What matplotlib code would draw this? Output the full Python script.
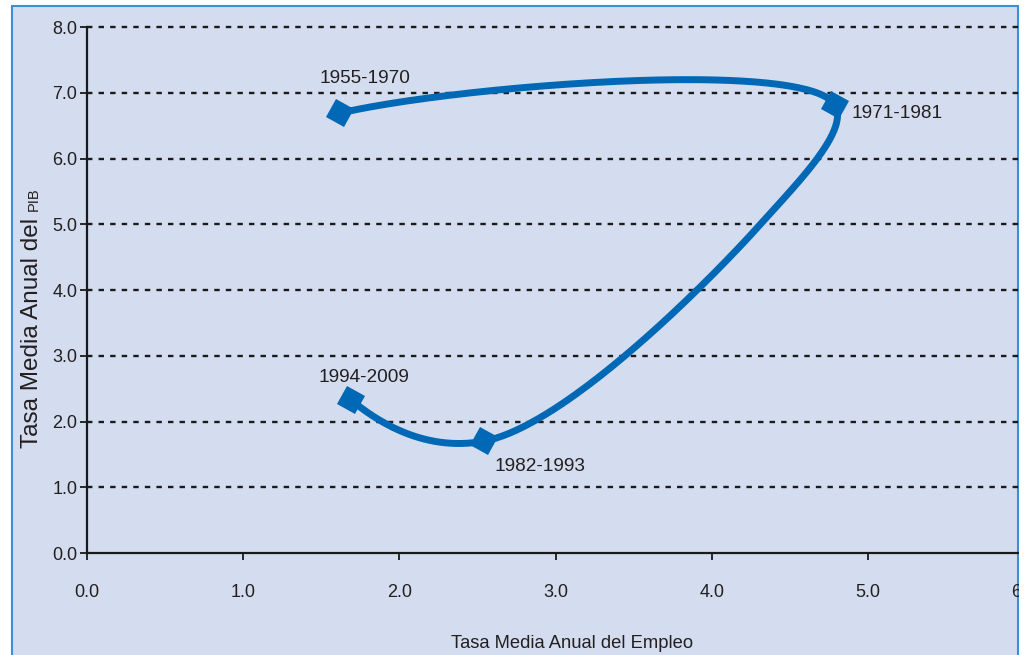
import numpy as np
import matplotlib.pyplot as plt
from matplotlib.markers import MarkerStyle
from matplotlib.patches import Rectangle
from matplotlib.transforms import Affine2D

# tasas medias anuales por periodo (empleo, PIB)
empleo = [1.62, 4.79, 4.32, 2.54, 1.69]
pib = [6.69, 6.81, 5.02, 1.70, 2.33]
periodos = ['1955-1970', '1971-1981', None, '1982-1993', '1994-2009']

xticks = [0, 1, 2, 3, 4, 5, 6]
yticks = [0, 1, 2, 3, 4, 5, 6, 7, 8]

plt.rcParams['font.family'] = ['Liberation Sans', 'DejaVu Sans']

FONDO = '#d4ddef'
AZUL = '#0068b5'
TEXTO = '#231f20'


def extremo(a, b, c, mezcla):
    # punto fantasma antes de a: mezcla entre prolongar b->a y reflejar c
    lineal = 2 * a - b
    u = (b - a) / np.linalg.norm(b - a)
    m = (a + b) / 2
    refl = c - 2 * np.dot(c - m, u) * u
    return (1 - mezcla) * lineal + mezcla * refl


def catmull_rom(P, alpha=0.5, mezcla=0.0, n=80):
    # Catmull-Rom centripeta (Barry-Goldman) tramo a tramo
    P = np.vstack([extremo(P[0], P[1], P[2], mezcla), P,
                   extremo(P[-1], P[-2], P[-3], mezcla)])
    out = []
    for i in range(1, len(P) - 2):
        p0, p1, p2, p3 = P[i - 1], P[i], P[i + 1], P[i + 2]
        t0 = 0
        t1 = t0 + np.linalg.norm(p1 - p0) ** alpha
        t2 = t1 + np.linalg.norm(p2 - p1) ** alpha
        t3 = t2 + np.linalg.norm(p3 - p2) ** alpha
        t = np.linspace(t1, t2, n)[:, None]
        a1 = (t1 - t) / (t1 - t0) * p0 + (t - t0) / (t1 - t0) * p1
        a2 = (t2 - t) / (t2 - t1) * p1 + (t - t1) / (t2 - t1) * p2
        a3 = (t3 - t) / (t3 - t2) * p2 + (t - t2) / (t3 - t2) * p3
        b1 = (t2 - t) / (t2 - t0) * a1 + (t - t0) / (t2 - t0) * a2
        b2 = (t3 - t) / (t3 - t1) * a2 + (t - t1) / (t3 - t1) * a3
        out.append((t2 - t) / (t2 - t1) * b1 + (t - t1) / (t2 - t1) * b2)
    return np.vstack(out)


fig = plt.figure(figsize=(10.3, 6.55), dpi=100, facecolor='white')
fig.patches.append(Rectangle((12 / 1030, -0.05), 1006 / 1030, 649 / 655 + 0.05,
                             transform=fig.transFigure, facecolor=FONDO,
                             edgecolor='#3d8fd1', linewidth=1.5, zorder=-1))

ax = fig.add_axes([87 / 1030, 102 / 655, 937 / 1030, 526 / 655])
ax.set_facecolor('none')
ax.set_xlim(0, 6)
ax.set_ylim(0, 8)

for s in ['top', 'right']:
    ax.spines[s].set_visible(False)
for s in ['left', 'bottom']:
    ax.spines[s].set_linewidth(1.6)
    ax.spines[s].set_color('#1a1a1a')

ax.set_xticks(xticks)
ax.set_xticklabels([f'{v:.1f}' for v in xticks])
ax.set_yticks(yticks)
ax.set_yticklabels([f'{v:.1f}' for v in yticks])
ax.tick_params(axis='x', direction='out', length=5, width=1.3, pad=17,
               labelsize=13, colors='#1a1a1a', labelcolor=TEXTO)
ax.tick_params(axis='y', direction='out', length=5, width=1.3, pad=2,
               labelsize=13, colors='#1a1a1a', labelcolor=TEXTO)

for v in yticks[1:]:
    ax.axhline(v, color='#1a1a1a', linewidth=1.7, linestyle=(0, (2.3, 2.6)),
               zorder=1, clip_on=False)

# curva suavizada, calculada en pixeles
P = ax.transData.transform(np.column_stack([empleo, pib]))
cx, cy = ax.transData.inverted().transform(catmull_rom(P, 0.5, 0.6)).T
ax.plot(cx, cy, color=AZUL, linewidth=5, solid_capstyle='butt', zorder=3)

marcador = MarkerStyle('s', transform=Affine2D().rotate_deg(-30))
desplaz = {'1955-1970': (-15, 25), '1971-1981': (11.5, -6),
           '1982-1993': (8, -18), '1994-2009': (-23, 16)}
for xe, yp, per in zip(empleo, pib, periodos):
    if per is None:
        continue
    ax.plot(xe, yp, marker=marcador, markersize=14.5, color=AZUL,
            markeredgewidth=0, zorder=4)
    ax.annotate(per, (xe, yp), xytext=desplaz[per], textcoords='offset points',
                ha='left', va='center', fontsize=13.7, color=TEXTO)

fig.text(572 / 1030, 1 - 643 / 655, 'Tasa Media Anual del Empleo', ha='center',
         va='center', fontsize=13.2, color=TEXTO)

ylab = fig.text(38 / 1030, 1 - 448 / 655, 'Tasa Media Anual del ', rotation=90,
                rotation_mode='anchor', ha='left', va='baseline', fontsize=17.5,
                color=TEXTO)
fig.canvas.draw()
bb = ylab.get_window_extent().transformed(fig.transFigure.inverted())
fig.text(38 / 1030, bb.y1, 'PIB', rotation=90, rotation_mode='anchor',
         ha='left', va='baseline', fontsize=10.5, color=TEXTO)

# franja blanca fuera del recuadro
fig.patches.append(Rectangle((1018.7 / 1030, 0), 1, 1, transform=fig.transFigure,
                             facecolor='white', edgecolor='none', zorder=10))

fig.savefig('out.png', dpi=100, facecolor='white')
